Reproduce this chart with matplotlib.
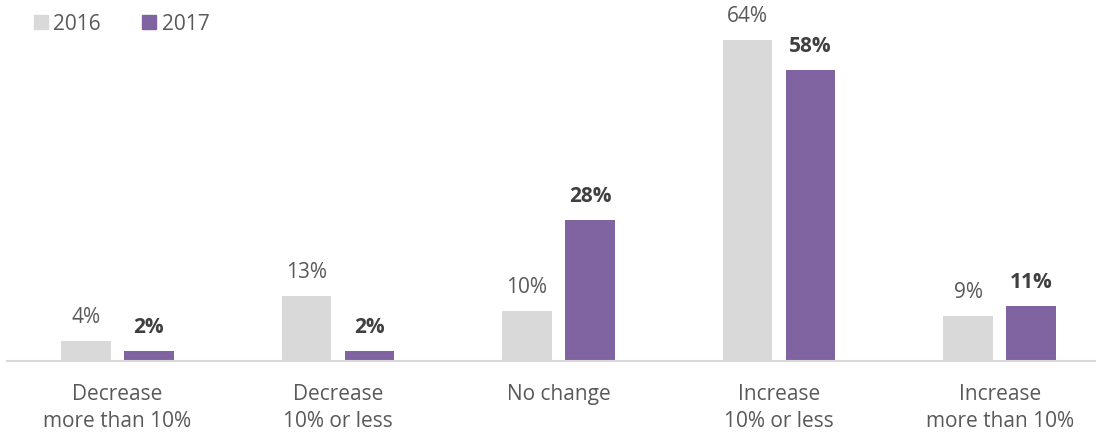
import matplotlib
matplotlib.use("Agg")
import matplotlib.pyplot as plt
import numpy as np
from matplotlib.patches import Patch

categories = ["Decrease\nmore than 10%", "Decrease\n10% or less", "No change",
              "Increase\n10% or less", "Increase\nmore than 10%"]
series_names = ["2016", "2017"]
values_2016 = [4, 13, 10, 64, 9]
values_2017 = [2, 2, 28, 58, 11]

GRAY = "#D9D9D9"
PURPLE = "#8064A2"
TXT = "#595959"
BOLD_TXT = "#404040"

plt.rcParams['font.family'] = ['Open Sans', 'DejaVu Sans']

W, H = 1096, 439
FS = 15
fig = plt.figure(figsize=(W / 100, H / 100), dpi=100)
# axes: left edge at px 7, right edge clipped beyond figure, bottom at px 362, top at 0
ax = fig.add_axes([7 / W, 1 - 362 / H, 1103 / W, 362 / H])

x = np.arange(len(categories))
bw = 0.225
off = 0.143
ax.bar(x - off, values_2016, bw, color=GRAY, zorder=2)
ax.bar(x + off, values_2017, bw, color=PURPLE, zorder=2)

ax.set_xlim(-0.5, len(categories) - 0.5)
ax.set_ylim(0, 362 / 5.02)

for xi, v in zip(x, values_2016):
    ax.annotate(f"{v}%", (xi - off, v), xytext=(0, 14), textcoords="offset pixels",
                ha="center", va="bottom", fontsize=FS, color=TXT)
for xi, v in zip(x, values_2017):
    ax.annotate(f"{v}%", (xi + off, v), xytext=(0, 14), textcoords="offset pixels",
                ha="center", va="bottom", fontsize=FS, color=BOLD_TXT, fontweight="bold")

for s in ["top", "right", "left"]:
    ax.spines[s].set_visible(False)
ax.spines["bottom"].set_color(GRAY)
ax.spines["bottom"].set_linewidth(1.5)
ax.set_yticks([])
ax.set_xticks(x)
ax.set_xticklabels(categories, fontsize=FS, color=TXT, linespacing=1.35)
ax.tick_params(axis="x", length=0, pad=16)

handles = [Patch(color=GRAY), Patch(color=PURPLE)]
fig.legend(handles, series_names, loc="center left", bbox_to_anchor=(34 / W, 1 - 25 / H),
           ncol=2, frameon=False, fontsize=FS, labelcolor=TXT,
           handlelength=0.67, handleheight=0.67, handletextpad=0.25,
           columnspacing=2.0, borderaxespad=0, borderpad=0)

fig.savefig("out.png", dpi=100)
